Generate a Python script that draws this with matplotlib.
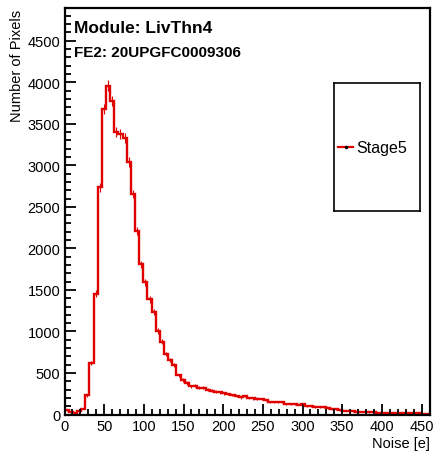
import numpy as np
import matplotlib
matplotlib.use('Agg')
import matplotlib.pyplot as plt
from matplotlib.ticker import MultipleLocator

plt.rcParams['font.family'] = ['Liberation Sans', 'DejaVu Sans']

# histogram: 88 bins between 0 and 460 e
x_min, x_max, n_bins = 0, 460, 88
counts = [50, 35, 20, 40, 70, 230, 623, 1455, 2734, 3680, 3960, 3770,
          3400, 3375, 3330, 3040, 2655, 2210, 1810, 1590, 1385, 1235, 1005, 875, 730,
          660, 600, 470, 415, 380, 340, 345, 325, 325, 300, 285, 275, 265, 255, 245, 235, 225,
          205, 225, 200, 193, 192, 189, 175, 155, 150, 148, 147, 130, 130, 122, 120, 128,
          100, 98, 92, 90, 88, 80, 68, 66,
          55, 48, 42, 40, 35, 33, 30, 28, 25, 24, 22, 22, 20, 20, 22, 18, 18, 16, 20, 14, 12, 10]
series_name = 'Stage5'
title_module = 'Module: LivThn4'
title_fe = 'FE2: 20UPGFC0009306'
x_title = 'Noise [e]'
y_title = 'Number of Pixels'

red = '#e00000'
W, H = 437, 456

counts = np.array(counts, dtype=float)
edges = np.linspace(x_min, x_max, n_bins + 1)
centers = 0.5 * (edges[1:] + edges[:-1])

fig = plt.figure(figsize=(W / 100, H / 100), dpi=100)
ax = fig.add_axes([64.5 / W, 1 - 415.5 / H, 365 / W, 407 / H])

ax.stairs(counts, edges, color=red, lw=1.7, baseline=None)
ax.vlines(centers, counts - np.sqrt(counts), counts + np.sqrt(counts), color=red, lw=0.8)

ax.set_xlim(x_min, x_max)
ax.set_ylim(0, 4900)
ax.xaxis.set_major_locator(MultipleLocator(50))
ax.xaxis.set_minor_locator(MultipleLocator(10))
ax.yaxis.set_major_locator(MultipleLocator(500))
ax.yaxis.set_minor_locator(MultipleLocator(100))
ax.tick_params(which='both', direction='in', top=False, right=False, labelsize=10.5, width=1.3, pad=3)
ax.tick_params(which='major', length=8)
ax.tick_params(which='minor', length=4)
for s in ax.spines.values():
    s.set_linewidth(1.6)

# titles in the ROOT style
fig.text(430 / W, 1 - 448 / H, x_title, ha='right', va='baseline', fontsize=10.5)
fig.text(17 / W, 1 - 10 / H, y_title, ha='center', va='top', rotation=90, fontsize=10.5)
fig.text(74 / W, 1 - 33 / H, title_module, ha='left', va='baseline', fontsize=12.5, fontweight='bold')
fig.text(74 / W, 1 - 57 / H, title_fe, ha='left', va='baseline', fontsize=11, fontweight='bold')

# legend box
lax = fig.add_axes([334 / W, 1 - 212 / H, 86 / W, 128 / H])
lax.set_xlim(0, 86)
lax.set_ylim(128, 0)
lax.set_xticks([])
lax.set_yticks([])
for s in lax.spines.values():
    s.set_linewidth(1.2)
lax.plot([4, 19], [64, 64], color=red, lw=1.6)
lax.plot([11.5], [64], 'o', color='black', ms=1.5)
lax.text(22, 64, series_name, ha='left', va='center', fontsize=11.5)

fig.savefig('out.png', dpi=100)
